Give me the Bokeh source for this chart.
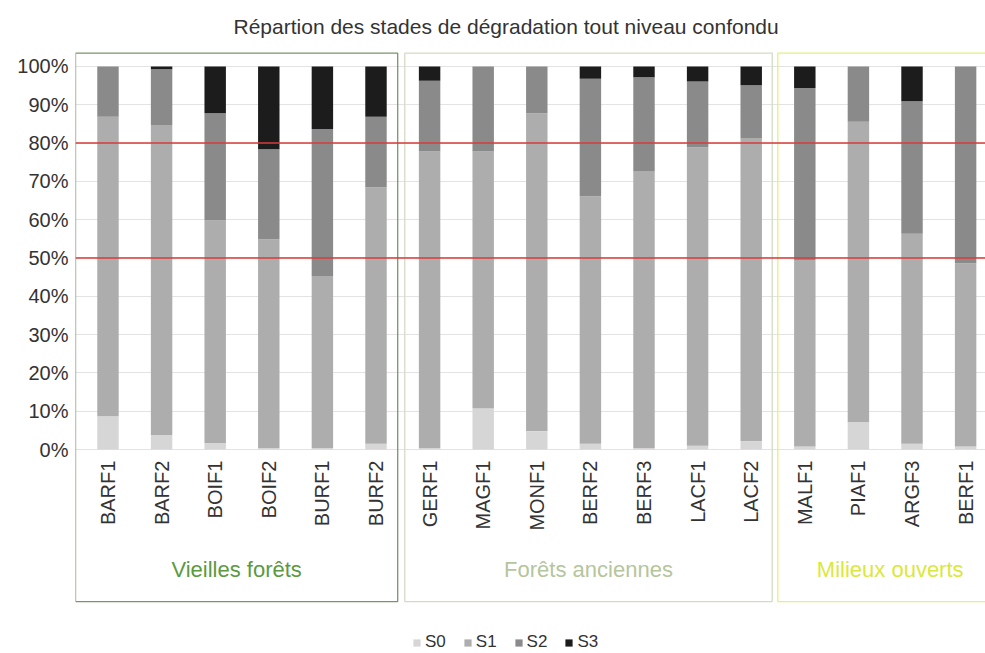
import numpy as np
from bokeh.plotting import figure
from bokeh.models import (ColumnDataSource, Range1d, FixedTicker, NumeralTickFormatter,
                          Span, Legend, LegendItem)
from bokeh.core.properties import value
from bokeh.embed import file_html
from bokeh.resources import INLINE

# ---------------- data ----------------
categories = ["BARF1", "BARF2", "BOIF1", "BOIF2", "BURF1", "BURF2",
              "GERF1", "MAGF1", "MONF1", "BERF2", "BERF3", "LACF1", "LACF2",
              "MALF1", "PIAF1", "ARGF3", "BERF1"]
S0 = [8.7, 3.8, 1.7, 0.3, 0.3, 1.5, 0.3, 10.8, 4.8, 1.5, 0.3, 1.0, 2.2, 0.8, 7.1, 1.5, 0.8]
S1 = [78.2, 80.9, 58.1, 54.6, 45.0, 67.0, 77.5, 67.0, 83.0, 64.6, 72.4, 77.9, 79.1, 48.7, 78.5, 54.8, 47.8]
S2 = [13.1, 14.6, 28.0, 23.5, 38.4, 18.4, 18.5, 22.2, 12.2, 30.7, 24.5, 17.2, 13.8, 44.9, 14.4, 34.6, 51.4]
S3 = [0.0, 0.7, 12.2, 21.6, 16.3, 13.1, 3.7, 0.0, 0.0, 3.2, 2.8, 3.9, 4.9, 5.6, 0.0, 9.1, 0.0]
series = ["S0", "S1", "S2", "S3"]
groups = ["Vieilles forêts", "Forêts anciennes", "Milieux ouverts"]
group_sizes = [6, 7, 4]
thresholds = [0.8, 0.5]
y_ticks = [i / 10 for i in range(11)]
title_text = "Répartion des stades de dégradation tout niveau confondu"

# ---------------- styles ----------------
colors = ["#d6d6d6", "#adadad", "#8a8a8a", "#1c1c1c"]
group_line_colors = ["#7d9468", "#d3dbc6", "#e6f07a"]
group_text_colors = ["#5b9a3e", "#b5c59c", "#d9e83c"]
pad_left = [-0.106, 0.037, -0.004]
pad_right = [-0.095, -0.108, 0.19]
FONT = "Liberation Sans"

x = np.arange(len(categories))
src = ColumnDataSource(dict(x=x, cat=categories,
                            S0=np.array(S0) / 100, S1=np.array(S1) / 100,
                            S2=np.array(S2) / 100, S3=np.array(S3) / 100))

p = figure(width=985, height=653, output_backend="svg", toolbar_location=None,
           x_range=Range1d(-0.606, 16.371), y_range=Range1d(-0.5326, 1.0548),
           x_axis_location=None,
           min_border_left=75, min_border_right=0, min_border_top=45, min_border_bottom=0)
p.outline_line_color = None
p.xgrid.visible = False
p.ygrid.grid_line_color = "#e3e3e3"
p.ygrid.grid_line_width = 1

ax = p.yaxis[0]
ax.ticker = FixedTicker(ticks=y_ticks)
ax.formatter = NumeralTickFormatter(format="0%")
ax.axis_line_color = None
ax.major_tick_line_color = None
ax.minor_tick_line_color = None
ax.major_tick_out = 0
ax.major_tick_in = 0
ax.major_label_standoff = 7
ax.major_label_text_font = FONT
ax.major_label_text_font_size = "20px"
ax.major_label_text_color = "#333333"

p.title.text = title_text
p.title.align = "left"
p.title.offset = 158
p.title.text_font = FONT
p.title.text_font_size = "21px"
p.title.text_font_style = "normal"
p.title.text_color = "#333333"
p.title.standoff = 16

# group boxes
starts = np.cumsum([0] + group_sizes[:-1])
ends = starts + np.array(group_sizes) - 1
box_left = starts - 0.5 + np.array(pad_left)
box_right = ends + 0.5 + np.array(pad_right)
gsrc = ColumnDataSource(dict(left=box_left, right=box_right,
                             top=[1.035] * 3, bottom=[-0.397] * 3,
                             lc=group_line_colors, tc=group_text_colors,
                             name=groups, cx=(box_left + box_right) / 2, cy=[-0.313] * 3))
p.quad(left="left", right="right", top="top", bottom="bottom", source=gsrc,
       fill_color=None, line_color="lc", line_width=1.3)
p.text(x="cx", y="cy", text="name", source=gsrc, text_color="tc",
       text_font=value(FONT), text_font_size="22px",
       text_align="center", text_baseline="middle")

# stacked bars
rs = p.vbar_stack(series, x="x", width=0.4, source=src, color=colors, line_color=None)

# thresholds
for t in thresholds:
    p.add_layout(Span(location=t, dimension="width", line_color="#d83a3a", line_width=1.5))

# category labels
p.text(x="x", y=-0.029, text="cat", source=src, angle=np.pi / 2,
       text_align="right", text_baseline="middle", text_color="#333333",
       text_font=value(FONT), text_font_size="20px")

legend = Legend(items=[LegendItem(label=s, renderers=[r]) for s, r in zip(series, rs)],
                orientation="horizontal", location=(337, 1),
                glyph_width=9, glyph_height=9, label_standoff=4, spacing=17,
                padding=0, margin=0, border_line_color=None, background_fill_alpha=0,
                label_text_font=FONT, label_text_font_size="17px",
                label_text_color="#333333")
p.add_layout(legend, "center")

open("out.html", "w").write(file_html(p, INLINE))
